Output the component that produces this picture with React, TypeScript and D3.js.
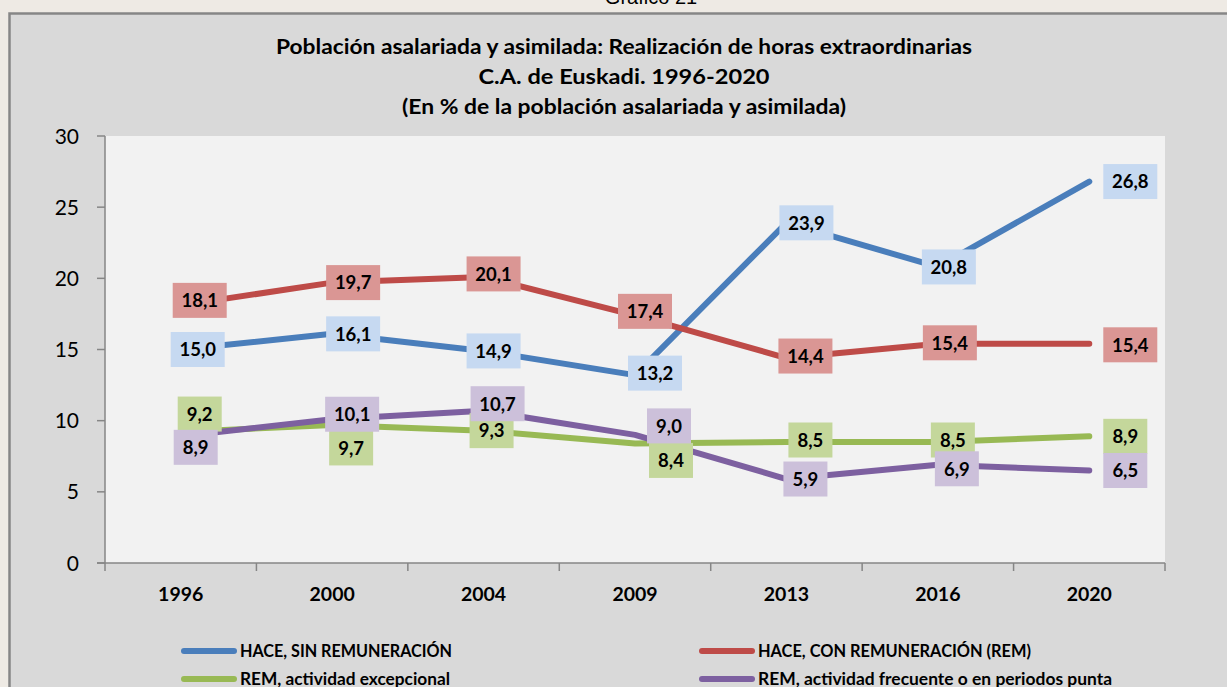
import React from "react";
import * as d3 from "d3";

const years = ["1996", "2000", "2004", "2009", "2013", "2016", "2020"];
const sinRemuneracion = [15.0, 16.1, 14.9, 13.2, 23.9, 20.8, 26.8];
const conRemuneracion = [18.1, 19.7, 20.1, 17.4, 14.4, 15.4, 15.4];
const remExcepcional = [9.2, 9.7, 9.3, 8.4, 8.5, 8.5, 8.9];
const remFrecuente = [8.9, 10.1, 10.7, 9.0, 5.9, 6.9, 6.5];
const yTicks = [0, 5, 10, 15, 20, 25, 30];

const seriesNames = [
  "HACE, SIN REMUNERACIÓN",
  "HACE, CON REMUNERACIÓN (REM)",
  "REM, actividad excepcional",
  "REM, actividad frecuente o en periodos punta",
];

const titleLines = [
  "Población asalariada y asimilada: Realización de horas extraordinarias",
  "C.A. de Euskadi. 1996-2020",
  "(En % de la población asalariada y asimilada)",
];

// styles / layout
const lineColors = ["#4A7EBB", "#BE4B48", "#98B954", "#7D60A0"];
const boxColors = ["#C6D9F1", "#DA9694", "#C4D79B", "#CCC0DA"];
const titleWidths = [696, 291, 444];
const legendWidths = [212, 273, 210, 354];

// label offsets (dx, dy) relative to each point, per series
const labelOffsets: [number, number][][] = [
  [[17, 0], [21, 0], [10, 0], [20, -2], [20, 0], [11, 0], [41, 0]],
  [[19, -5], [21, 0], [10, -3], [10, -4], [19, -2], [12, -1], [41, 1]],
  [[19, -18], [19, 23], [8, 0], [36, 17], [24, -2], [15, -2], [36, 0]],
  [[15, 11], [20, -5], [14, -7], [34, -9], [19, 0], [19, 4], [36, 0]],
];

const FONT = "Lato, 'Noto Sans', sans-serif";

export default function App() {
  const plot = { left: 105, right: 1165, top: 136, bottom: 563 };
  const x = d3
    .scaleBand<string>()
    .domain(years)
    .range([plot.left, plot.right])
    .padding(0);
  const cx = (yr: string) => (x(yr) as number) + x.bandwidth() / 2;
  const y = d3.scaleLinear().domain([0, 30]).range([plot.bottom, plot.top]);

  const allSeries = [sinRemuneracion, conRemuneracion, remExcepcional, remFrecuente];
  const line = d3
    .line<number>()
    .x((_, i) => cx(years[i]))
    .y((d) => y(d));

  const fmt = (v: number) => v.toFixed(1).replace(".", ",");

  const boundaries = years.map((yr) => x(yr) as number).concat([plot.right]);

  const legendItems = [
    { i: 0, x: 181, y: 651 },
    { i: 1, x: 699, y: 651 },
    { i: 2, x: 181, y: 679 },
    { i: 3, x: 699, y: 679 },
  ];

  return (
    <svg
      width={1227}
      height={687}
      style={{ position: "absolute", left: 0, top: 0 }}
      fontFamily={FONT}
    >
      <rect x={0} y={0} width={1227} height={687} fill="#EEEAE4" />
      <text
        x={651}
        y={4}
        textAnchor="middle"
        fontFamily="'Liberation Sans', Arial, sans-serif"
        fontSize={20}
        fill="#000"
      >
        Gráfico 21
      </text>
      <rect
        x={9.5}
        y={13.5}
        width={1240}
        height={700}
        fill="#D9D9D9"
        stroke="#868686"
        strokeWidth={2.5}
      />
      {titleLines.map((t, i) => (
        <text
          key={i}
          x={624}
          y={54 + i * 30}
          textAnchor="middle"
          fontWeight="bold"
          fontSize={20}
          textLength={titleWidths[i]}
          lengthAdjust="spacingAndGlyphs"
          fill="#000"
        >
          {t}
        </text>
      ))}
      <rect
        x={plot.left}
        y={plot.top}
        width={plot.right - plot.left}
        height={plot.bottom - plot.top}
        fill="#F2F2F2"
      />
      {/* y axis */}
      <line
        x1={plot.left}
        x2={plot.left}
        y1={plot.top}
        y2={plot.bottom}
        stroke="#868686"
        strokeWidth={1.5}
      />
      {yTicks.map((t) => (
        <g key={t}>
          <line
            x1={plot.left - 8}
            x2={plot.left}
            y1={y(t)}
            y2={y(t)}
            stroke="#868686"
            strokeWidth={1.5}
          />
          <text
            x={79}
            y={y(t) + 7.5}
            textAnchor="end"
            fontSize={21}
            fill="#000"
          >
            {t}
          </text>
        </g>
      ))}
      {/* x axis */}
      <line
        x1={plot.left - 8}
        x2={plot.right}
        y1={plot.bottom}
        y2={plot.bottom}
        stroke="#868686"
        strokeWidth={1.5}
      />
      {boundaries.map((b, i) => (
        <line
          key={i}
          x1={b}
          x2={b}
          y1={plot.bottom}
          y2={plot.bottom + 8}
          stroke="#868686"
          strokeWidth={1.5}
        />
      ))}
      {years.map((yr) => (
        <text
          key={yr}
          x={cx(yr)}
          y={600.5}
          textAnchor="middle"
          fontWeight="bold"
          fontSize={19.5}
          fill="#000"
        >
          {yr}
        </text>
      ))}
      {/* lines */}
      {allSeries.map((s, si) => (
        <path
          key={si}
          d={line(s) as string}
          fill="none"
          stroke={lineColors[si]}
          strokeWidth={6}
          strokeLinecap="round"
          strokeLinejoin="round"
        />
      ))}
      {/* labels */}
      {allSeries.map((s, si) => (
        <g key={si}>
          {s.map((v, i) => {
            const txt = fmt(v);
            const w = txt.length >= 4 ? 54 : 44;
            const h = 35;
            const lx = cx(years[i]) + labelOffsets[si][i][0];
            const ly = y(v) + labelOffsets[si][i][1];
            return (
              <g key={i}>
                <rect
                  x={lx - w / 2}
                  y={ly - h / 2}
                  width={w}
                  height={h}
                  fill={boxColors[si]}
                />
                <text
                  x={lx}
                  y={ly + 6.8}
                  textAnchor="middle"
                  fontWeight="bold"
                  fontSize={18.5}
                  fill="#000"
                >
                  {txt}
                </text>
              </g>
            );
          })}
        </g>
      ))}
      {/* legend */}
      {legendItems.map((it) => (
        <g key={it.i}>
          <line
            x1={it.x + 3}
            x2={it.x + 53}
            y1={it.y}
            y2={it.y}
            stroke={lineColors[it.i]}
            strokeWidth={6}
            strokeLinecap="round"
          />
          <text
            x={it.x + 59}
            y={it.y + 6}
            fontWeight="bold"
            fontSize={16.5}
            textLength={legendWidths[it.i]}
            lengthAdjust="spacingAndGlyphs"
            fill="#000"
          >
            {seriesNames[it.i]}
          </text>
        </g>
      ))}
    </svg>
  );
}
